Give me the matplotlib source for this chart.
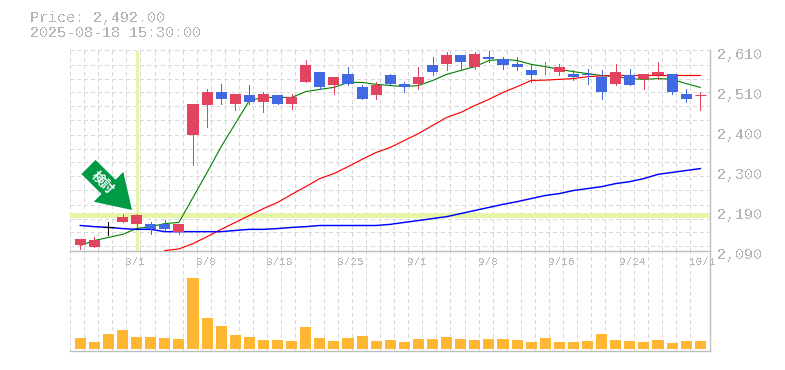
import numpy as np
import matplotlib
matplotlib.use("Agg")
import matplotlib.pyplot as plt
from matplotlib.patches import FancyArrow
from matplotlib.transforms import Affine2D, ScaledTranslation

title_lines = ["Price: 2,492.00", "2025-08-18 15:30:00"]
opens = [2103,2100,2150,2165,2158,2160,2160,2139,2389,2467,2503,2472,2493,2477,2493,
         2470,2529,2553,2519,2550,2516,2493,2545,2522,2524,2571,2576,2597,2566,2594,
         2589,2574,2558,2566,2553,2548,2550,2542,2522,2545,2535,2545,2548,2496,2492]
closes = [2121,2116,2150,2176,2181,2145,2145,2158,2470,2501,2485,2496,2477,2498,2472,
          2490,2571,2516,2540,2524,2483,2519,2522,2514,2542,2555,2597,2579,2602,2587,
          2571,2566,2545,2568,2566,2540,2545,2501,2553,2519,2548,2555,2501,2485,2493]
highs = [2121,2124,2163,2186,2186,2165,2168,2158,2470,2509,2524,2496,2519,2503,2493,
         2496,2584,2555,2542,2566,2519,2529,2548,2529,2568,2594,2605,2597,2605,2610,
         2594,2594,2571,2579,2576,2558,2561,2558,2576,2563,2548,2581,2550,2511,2501]
lows = [2093,2100,2129,2163,2150,2134,2142,2134,2311,2410,2470,2454,2472,2451,2470,
        2457,2529,2511,2498,2519,2483,2485,2522,2503,2509,2545,2558,2563,2561,2581,
        2563,2558,2527,2548,2545,2532,2522,2483,2519,2519,2511,2535,2496,2477,2454]
volumes = [11,7,15,19,12,12,11,10,71,31,23,14,12,9,9,8,22,11,8,11,13,8,9,7,
           10,10,12,10,9,10,10,9,7,11,7,7,8,15,9,8,7,9,6,8,8]
ma_short = [2103,2116,2124,2132,2147,2152,2160,2163,2228,2293,2360,2420,2480,2488,2488,
            2488,2503,2509,2514,2527,2527,2522,2519,2516,2519,2532,2548,2558,2568,2584,
            2587,2584,2574,2568,2561,2555,2550,2545,2542,2537,2535,2537,2535,2524,2514]
ma_mid_start = 6
ma_mid = [2090,2094,2108,2126,2145,2163,2181,2199,2215,2236,2256,2277,2290,2308,2327,
          2345,2358,2376,2394,2415,2436,2449,2467,2483,2501,2516,2532,2533,2535,2537,
          2542,2544,2545,2545,2545,2545,2545,2545,2545]
ma_long = [2155,2152,2150,2147,2145,2145,2139,2139,2139,2139,2139,2142,2145,2145,2147,
           2150,2152,2155,2155,2155,2155,2155,2158,2163,2168,2173,2178,2186,2194,2202,
           2210,2217,2225,2233,2238,2246,2251,2256,2264,2269,2277,2288,2293,2298,2303]
price_ticks = [2610, 2506, 2402, 2298, 2194, 2090]
price_labels = ["2,610", "2,510", "2,400", "2,300", "2,190", "2,090"]
date_idx = [4, 9, 14, 19, 24, 29, 34, 39, 44]
date_labels = ["8/1", "8/8", "8/18", "8/25", "9/1", "9/8", "9/16", "9/24", "10/1"]
marker_idx = 4
marker_price = 2181
arrow_text = "検討"

W, H = 785, 370
plt.rcParams["font.family"] = ["Liberation Mono", "DejaVu Sans Mono"]
plt.rcParams["text.antialiased"] = False
px = 0.72  # points per pixel at 100 dpi

fig = plt.figure(figsize=(W / 100, H / 100), dpi=100, facecolor="white")
L, R = 70.0, 710.0
axv = fig.add_axes([L / W, 1 - 350.5 / H, (R - L) / W, 100 / H], zorder=1)
ax = fig.add_axes([L / W, 1 - 250.5 / H, (R - L) / W, 200 / H], zorder=2)

idx = np.arange(len(opens))
xlim = (-0.73, 44.69)
for a in (ax, axv):
    a.set_xlim(*xlim)
    a.set_facecolor("white")
ax.set_ylim(2090, 2610)
axv.set_ylim(-2, 98)

GRID = "#D8D8D8"
vgrid = np.arange(46) + xlim[0]
grid_kw = dict(color=GRID, lw=0.72, ls=(0, (3.5, 3.5)), antialiased=False, zorder=1)
for a in (ax, axv):
    a.vlines(vgrid[:45], *a.get_ylim(), clip_on=False, **grid_kw)
ax.hlines(2610 - 14 * 2.6 * np.arange(15), *xlim, clip_on=False, **grid_kw)

HL = "#E6F5A8"
ax.axhline(marker_price, color=HL, lw=2.2, zorder=2, antialiased=False)
ax.axvline(marker_idx, ymin=0.005, ymax=1, color=HL, lw=2.0, zorder=2, antialiased=False)

o, c, h, l = map(np.array, (opens, closes, highs, lows))
cols = np.where(c > o, "#E2435F", np.where(c < o, "#4169E1", "#000000"))

ax.plot(idx, ma_short, color="#008000", lw=0.8, zorder=3)
ax.plot(idx[ma_mid_start:], ma_mid, color="#FF0000", lw=0.85, zorder=3)
ax.plot(idx, ma_long, color="#0000FF", lw=1.05, zorder=3)

ax.vlines(idx, l, h, colors=cols, lw=0.72, zorder=4, antialiased=False)
body = np.abs(c - o) > 1
ax.bar(idx[body], np.abs(c - o)[body], bottom=np.minimum(o, c)[body], width=0.79,
       color=cols[body], zorder=5, antialiased=False, linewidth=0)
ax.hlines(c[~body], idx[~body] - 0.39, idx[~body] + 0.39, colors=cols[~body], lw=0.8,
          zorder=6)

axv.bar(idx, volumes, width=0.79, color="#FFB733", zorder=3, antialiased=False, linewidth=0)

SPINE = "#BEBEBE"
for a in (ax, axv):
    for s in ("top", "left"):
        a.spines[s].set_visible(False)
    for s in ("right", "bottom"):
        a.spines[s].set_color(SPINE)
        a.spines[s].set_linewidth(1.0)
    a.tick_params(length=0)
    a.set_yticks([])
    a.set_xticks([])

ax.yaxis.tick_right()
ax.set_yticks(price_ticks, price_labels)
ax.tick_params(axis="y", length=0, pad=5, labelsize=15 * px, labelcolor="#B4B4B4")
shift = ScaledTranslation(0, -3 / 100, fig.dpi_scale_trans)
for t in ax.get_yticklabels():
    t.set_transform(t.get_transform() + shift)

ax.set_xticks(idx[date_idx], date_labels)
ax.tick_params(axis="x", length=0, pad=5, labelsize=11 * px, labelcolor="#B8B8B8")
shift_x = ScaledTranslation(-11 / 100, 0, fig.dpi_scale_trans)
for t in ax.get_xticklabels():
    t.set_ha("left")
    t.set_transform(t.get_transform() + shift_x)

fig.text(30 / W, 1 - 18 / H, title_lines[0], fontsize=15 * px, color="#B4B4B4", va="center")
fig.text(30 / W, 1 - 33 / H, title_lines[1], fontsize=15 * px, color="#B4B4B4", va="center")

# annotation arrow, placed in top-left pixel coordinates
top_left = Affine2D().scale(1, -1).translate(0, H)
fig.add_artist(FancyArrow(88.5, 167, 43.5, 43, width=20, head_width=42, head_length=33,
                          length_includes_head=True, color="#009944", lw=0,
                          transform=top_left, zorder=6))
fig.text(102.5 / W, 1 - 182.5 / H, arrow_text, family=["Noto Sans CJK JP", "DejaVu Sans"],
         fontsize=13 * px, weight="bold", color="white", rotation=-45, antialiased=True,
         rotation_mode="anchor", ha="center", va="center", zorder=7)

fig.savefig("out.png", dpi=100, facecolor="white")
